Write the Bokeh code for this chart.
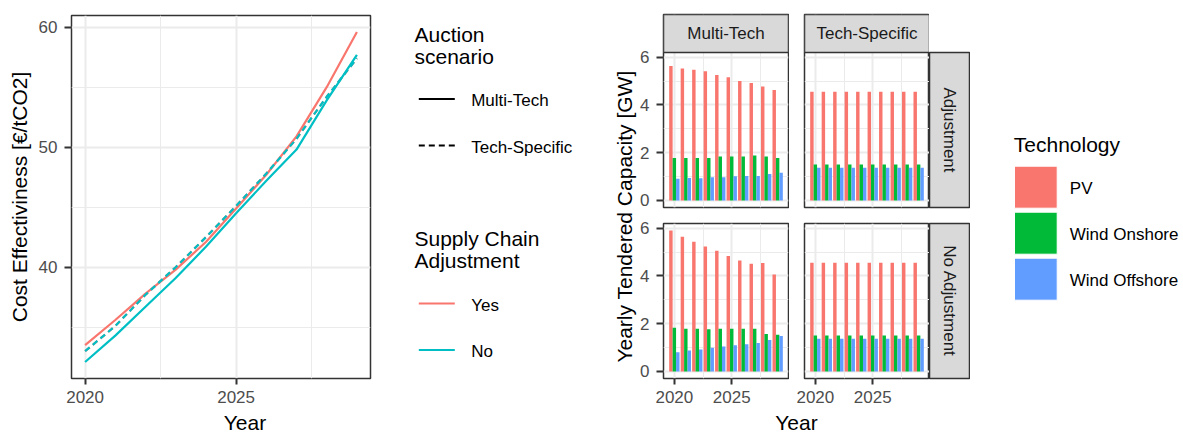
import numpy as np
from bokeh.plotting import figure
from bokeh.layouts import row, column
from bokeh.models import Range1d, LinearAxis, Grid, FixedTicker, Label, Spacer, ColumnDataSource
from bokeh.transform import dodge
from bokeh.embed import file_html
from bokeh.resources import INLINE

FONT = "Liberation Sans"

# ---------------- data ----------------
years = [2020, 2021, 2022, 2023, 2024, 2025, 2026, 2027, 2028, 2029]

# Cost effectiveness [EUR/tCO2]
cost_yes_multi_tech = [33.5, 35.6, 37.8, 39.8, 42.1, 44.9, 47.7, 50.9, 55.0, 59.6]
cost_yes_tech_specific = [33.0, 35.1, 37.7, 40.0, 42.5, 45.1, 47.8, 50.7, 54.2, 57.4]
cost_no_multi_tech = [32.1, 34.3, 36.7, 39.1, 41.7, 44.5, 47.2, 49.8, 53.9, 57.7]
cost_no_tech_specific = [33.0, 35.1, 37.7, 40.0, 42.5, 45.1, 47.8, 50.7, 54.2, 57.4]

auction_scenarios = ["Multi-Tech", "Tech-Specific"]
supply_chain = ["Yes", "No"]
facet_rows = ["Adjustment", "No Adjustment"]
technologies = ["PV", "Wind Onshore", "Wind Offshore"]

# Yearly tendered capacity [GW]
mt_adj_pv = [5.63, 5.53, 5.47, 5.41, 5.25, 5.16, 5.00, 4.92, 4.77, 4.62]
mt_adj_onshore = [1.78, 1.78, 1.78, 1.78, 1.84, 1.84, 1.84, 1.88, 1.84, 1.78]
mt_adj_offshore = [0.91, 0.94, 0.93, 0.97, 0.97, 1.01, 1.02, 1.02, 1.11, 1.16]
ts_adj_pv = [4.55, 4.55, 4.55, 4.55, 4.55, 4.55, 4.55, 4.55, 4.55, 4.55]
ts_adj_onshore = [1.51, 1.51, 1.51, 1.51, 1.51, 1.51, 1.51, 1.51, 1.51, 1.51]
ts_adj_offshore = [1.37, 1.37, 1.37, 1.37, 1.37, 1.37, 1.37, 1.37, 1.37, 1.37]
mt_noadj_pv = [5.90, 5.64, 5.43, 5.23, 5.05, 4.83, 4.65, 4.51, 4.54, 4.06]
mt_noadj_onshore = [1.83, 1.79, 1.79, 1.77, 1.79, 1.79, 1.79, 1.79, 1.57, 1.54]
mt_noadj_offshore = [0.80, 0.88, 0.92, 0.99, 1.05, 1.10, 1.14, 1.19, 1.32, 1.48]
ts_noadj_pv = [4.55, 4.55, 4.55, 4.55, 4.55, 4.55, 4.55, 4.55, 4.55, 4.55]
ts_noadj_onshore = [1.51, 1.51, 1.51, 1.51, 1.51, 1.51, 1.51, 1.51, 1.51, 1.51]
ts_noadj_offshore = [1.37, 1.37, 1.37, 1.37, 1.37, 1.37, 1.37, 1.37, 1.37, 1.37]

year_ticks = [2020, 2025]
year_minor = [2022.5, 2027.5]
cost_ticks = [40, 50, 60]
cost_minor = [35, 45, 55]
cap_ticks = [0, 2, 4, 6]
cap_minor = [1, 3, 5]

# ---------------- styles ----------------
RED, CYAN = "#F8766D", "#00BFC4"
TECH_COLORS = ["#F8766D", "#00BA38", "#619CFF"]
GRID = "#EBEBEB"
DARK = "#333333"
TICK_TXT = "#4D4D4D"
STRIP_FILL = "#D9D9D9"
STRIP_TXT = "#1A1A1A"
LW = 2.2
DASH = "6 4"


def style_axis(ax):
    ax.axis_line_color = None
    ax.major_tick_in = 0
    ax.major_tick_out = 6
    ax.major_tick_line_color = DARK
    ax.major_tick_line_width = 2
    ax.minor_tick_line_color = None
    ax.major_label_text_font = FONT
    ax.major_label_text_font_size = "17px"
    ax.major_label_text_color = TICK_TXT
    ax.major_label_standoff = 6
    ax.axis_label_text_font = FONT
    ax.axis_label_text_font_size = "21px"
    ax.axis_label_text_font_style = "normal"
    ax.axis_label_text_color = "black"


def add_grids(p, xt, yt):
    for dim, t in ((0, xt), (1, yt)):
        p.add_layout(Grid(dimension=dim, ticker=t, grid_line_color=GRID, grid_line_width=2,
                          minor_grid_line_color=GRID, minor_grid_line_width=1))


def pixel_fig(x0, x1, y0, y1):
    return figure(width=x1 - x0, height=y1 - y0, x_range=Range1d(x0, x1), y_range=Range1d(-y1, -y0),
                  x_axis_type=None, y_axis_type=None, output_backend="svg", toolbar_location=None,
                  min_border=0, outline_line_color=None)


def add_text(p, x, y_center, text, size, color="black", align="left", angle=0.0):
    p.add_layout(Label(x=x, y=-y_center, text=text, text_font=FONT, text_font_size=size,
                       text_color=color, text_align=align, text_baseline="middle", angle=angle))


# ---------------- left plot: cost effectiveness ----------------
all_cost = np.concatenate([cost_yes_multi_tech, cost_yes_tech_specific, cost_no_multi_tech, cost_no_tech_specific])
c_lo, c_hi = all_cost.min(), all_cost.max()
c_pad = 0.05 * (c_hi - c_lo)
y_pad = 0.05 * (max(years) - min(years))

A = figure(width=380, height=410, x_range=Range1d(min(years) - y_pad, max(years) + y_pad),
           y_range=Range1d(c_lo - c_pad, c_hi + c_pad), x_axis_type=None, y_axis_type=None,
           output_backend="svg", toolbar_location=None, min_border_left=71, min_border_right=10,
           min_border_top=15, min_border_bottom=32, outline_line_color=DARK, outline_line_width=1.5)
xt_cost = FixedTicker(ticks=year_ticks, minor_ticks=year_minor)
yt_cost = FixedTicker(ticks=cost_ticks, minor_ticks=cost_minor)
add_grids(A, xt_cost, yt_cost)
ax = LinearAxis(ticker=xt_cost)
style_axis(ax)
A.add_layout(ax, "below")
ay = LinearAxis(ticker=yt_cost, axis_label="Cost Effectiviness [€/tCO2]")
style_axis(ay)
ay.major_tick_out = 7
ay.major_label_standoff = 7
ay.axis_label_standoff = 5
A.add_layout(ay, "left")

series = [
    (cost_yes_multi_tech, RED, None),
    (cost_yes_tech_specific, RED, DASH),
    (cost_no_multi_tech, CYAN, None),
    (cost_no_tech_specific, CYAN, DASH),
]
for vals, col, dash in series:
    kw = dict(line_dash=dash) if dash else {}
    A.line(years, vals, line_color=col, line_width=LW, **kw)

A_xlab = pixel_fig(0, 380, 410, 434)
add_text(A_xlab, 220.5, 422.2, "Year", "21px", align="center")
A_col = column(A, A_xlab)

# ---------------- legend for left plot ----------------
B = pixel_fig(380, 600, 0, 434)
add_text(B, 414, 34.2, "Auction", "21px")
add_text(B, 414, 55.8, "scenario", "21px")
add_text(B, 414, 237.5, "Supply Chain", "21px")
add_text(B, 414, 259.5, "Adjustment", "21px")
auction_key_y = [98.5, 145.0]
for lab, ky, dash in zip(auction_scenarios, auction_key_y, [None, DASH]):
    kw = dict(line_dash=dash) if dash else {}
    B.segment(x0=[418.3], y0=[-ky], x1=[454.3], y1=[-ky], line_color="black", line_width=LW, **kw)
    add_text(B, 470.7, ky + 1.5, lab, "17px")
supply_key_y = [303.0, 349.5]
for lab, ky, col in zip(supply_chain, supply_key_y, [RED, CYAN]):
    B.segment(x0=[418.3], y0=[-ky], x1=[454.3], y1=[-ky], line_color=col, line_width=LW)
    add_text(B, 470.7, ky + 1.5, lab, "17px")

# ---------------- facet grid: yearly tendered capacity ----------------
all_cap = np.concatenate([mt_adj_pv, mt_adj_onshore, mt_adj_offshore, ts_adj_pv, ts_adj_onshore,
                          ts_adj_offshore, mt_noadj_pv, mt_noadj_onshore, mt_noadj_offshore,
                          ts_noadj_pv, ts_noadj_onshore, ts_noadj_offshore])
cap_hi = all_cap.max()
cap_lo = 0.0
cap_pad = 0.05 * (cap_hi - cap_lo)
yr_bar = Range1d(cap_lo - cap_pad, cap_hi + cap_pad)

PANEL_H = 155   # panel height in px
STRIP_H = 38    # strip height in px
units_per_px = (yr_bar.end - yr_bar.start) / PANEL_H
yr_bar_top = Range1d(yr_bar.start, yr_bar.end + STRIP_H * units_per_px)  # top row: panel + column strip

bar_w = 0.9 / 3
bx_lo, bx_hi = min(years) - 0.45, max(years) + 0.45
bx_pad = 0.05 * (bx_hi - bx_lo)
xr_bar = Range1d(bx_lo - bx_pad, bx_hi + bx_pad)
xt_bar = FixedTicker(ticks=year_ticks, minor_ticks=year_minor)
yt_bar = FixedTicker(ticks=cap_ticks, minor_ticks=cap_minor)


def bar_panel(pv, on, off, width, height, left, right, top, bottom, show_y, show_x, strip_text=None):
    yr = yr_bar_top if strip_text else yr_bar
    p = figure(width=width, height=height, x_range=xr_bar, y_range=yr, x_axis_type=None,
               y_axis_type=None, output_backend="svg", toolbar_location=None, min_border_left=left,
               min_border_right=right, min_border_top=top, min_border_bottom=bottom,
               outline_line_color=DARK, outline_line_width=1.5)
    add_grids(p, xt_bar, yt_bar)
    if show_y:
        a = LinearAxis(ticker=yt_bar)
        style_axis(a)
        a.major_tick_out = 7
        a.major_label_standoff = 7
        p.add_layout(a, "left")
    if show_x:
        a = LinearAxis(ticker=xt_bar)
        style_axis(a)
        p.add_layout(a, "below")
    src = ColumnDataSource(dict(year=years, pv=pv, on=on, off=off))
    for field, off_x, col in zip(["pv", "on", "off"], [-bar_w, 0.0, bar_w], TECH_COLORS):
        p.vbar(x=dodge("year", off_x), top=field, bottom=0, width=bar_w, source=src,
               fill_color=col, line_color=None)
    if strip_text:
        p.quad(left=[xr_bar.start], right=[xr_bar.end], bottom=[yr_bar.end], top=[yr_bar_top.end],
               fill_color=STRIP_FILL, line_color=DARK, line_width=1.5)
        p.add_layout(Label(x=(xr_bar.start + xr_bar.end) / 2, y=(yr_bar.end + yr_bar_top.end) / 2,
                           text=strip_text, text_align="center", text_baseline="middle",
                           text_font=FONT, text_font_size="17px", text_color=STRIP_TXT))
    return p


def strip(text, width, height, left, right, top, bottom, angle=0.0):
    p = figure(width=width, height=height, x_range=Range1d(0, 1), y_range=Range1d(0, 1),
               x_axis_type=None, y_axis_type=None, output_backend="svg", toolbar_location=None,
               min_border_left=left, min_border_right=right, min_border_top=top, min_border_bottom=bottom,
               background_fill_color=STRIP_FILL, outline_line_color=DARK, outline_line_width=1.5)
    p.add_layout(Label(x=0.5, y=0.5, text=text, text_align="center", text_baseline="middle",
                       text_font=FONT, text_font_size="17px", text_color=STRIP_TXT, angle=angle))
    return p


# columns: Multi-Tech (page x 637..789), Tech-Specific (789..929), row strips (929..970)
# top row figure: y 0..214 (strip 14..52, panel 52..207); bottom row: 214..410 (panel 223..378)
p_mt_adj = bar_panel(mt_adj_pv, mt_adj_onshore, mt_adj_offshore, 152, 214, 26, 1, 14, 7, True, False,
                     strip_text=auction_scenarios[0])
p_ts_adj = bar_panel(ts_adj_pv, ts_adj_onshore, ts_adj_offshore, 140, 214, 15, 0, 14, 7, False, False,
                     strip_text=auction_scenarios[1])
p_mt_noadj = bar_panel(mt_noadj_pv, mt_noadj_onshore, mt_noadj_offshore, 152, 196, 26, 1, 9, 32, True, True)
p_ts_noadj = bar_panel(ts_noadj_pv, ts_noadj_onshore, ts_noadj_offshore, 140, 196, 15, 0, 9, 32, False, True)
r_strip1 = strip(facet_rows[0], 41, 163, 0, 1, 1, 7, angle=-np.pi / 2)
r_strip2 = strip(facet_rows[1], 41, 196, 0, 1, 9, 32, angle=-np.pi / 2)

col_mt = column(p_mt_adj, p_mt_noadj)
col_ts = column(p_ts_adj, p_ts_noadj)
col_rs = column(Spacer(width=41, height=51), r_strip1, r_strip2)
grid_xlab = pixel_fig(637, 970, 410, 434)
add_text(grid_xlab, 796, 422.2, "Year", "21px", align="center")
grid_block = column(row(col_mt, col_ts, col_rs), grid_xlab)

ylab = pixel_fig(600, 637, 0, 434)
add_text(ylab, 624.3, 216, "Yearly Tendered Capacity [GW]", "21px", align="center", angle=np.pi / 2)

# ---------------- technology legend ----------------
D = pixel_fig(970, 1183, 0, 434)
add_text(D, 1013.3, 144.2, "Technology", "21px")
key_top = [165.7, 211.7, 257.7]
D.quad(left=[1014] * 3, right=[1056.7] * 3, top=[-t for t in key_top], bottom=[-(t + 42) for t in key_top],
       fill_color=TECH_COLORS, line_color="white", line_width=1)
for lab, t in zip(technologies, key_top):
    add_text(D, 1069.3, t + 22, lab, "17px")

root = row(A_col, B, ylab, grid_block, D)
open("out.html", "w").write(file_html(root, INLINE))
